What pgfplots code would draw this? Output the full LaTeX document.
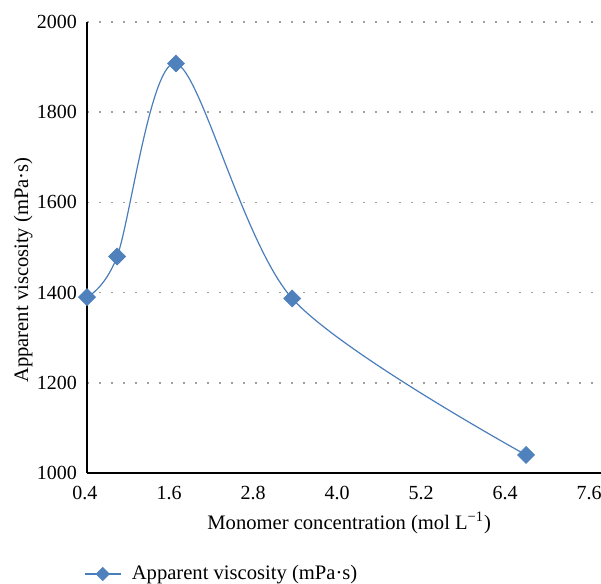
\documentclass[border=0pt]{standalone}
\usepackage{fontspec}
\setmainfont{Liberation Serif}
\usepackage{pgfplots}
\pgfplotsset{compat=1.18}
\definecolor{seriesblue}{HTML}{4A7EBB}
\definecolor{markblue}{HTML}{4F81BD}

\begin{document}
\begin{tikzpicture}
% fixed canvas around the plot area (axis box: 257pt x 225.5pt)
\path[use as bounding box] (-43.5pt,-55.5pt) rectangle (257pt,236.5pt);
\begin{axis}[
  scale only axis,
  width=257pt, height=225.5pt,
  at={(0,0)}, anchor=south west,
  xmin=0.4, xmax=7.74,
  ymin=1000, ymax=2000,
  xtick={0.4,1.6,2.8,4.0,5.2,6.4,7.6},
  xticklabels={0.4,1.6,2.8,4.0,5.2,6.4,7.6},
  ytick={1000,1200,1400,1600,1800,2000},
  yticklabels={1000,1200,1400,1600,1800,2000},
  major tick length=0pt,
  axis x line=bottom, axis y line=left,
  axis line style={-, black, line width=0.75pt},
  ymajorgrids,
  grid style={gray!75, line width=0.8pt, dash pattern=on 0.8pt off 5.2pt},
  font=\fontsize{10.3}{12}\selectfont,
  tick label style={font=\fontsize{10}{12}\selectfont},
  yticklabel style={xshift=-1.5pt},
  xticklabel style={yshift=-3pt, xshift=-1pt},
  /pgf/number format/assume math mode=true,
  xlabel={Monomer concentration (mol L\textsuperscript{−1})},
  xlabel style={at={(axis description cs:0.51,-0.111)}, anchor=center},
  ylabel={Apparent viscosity (mPa·s)},
  ylabel style={at={(axis description cs:-0.124,0.45)}, anchor=center},
  legend style={at={(axis description cs:-0.017,-0.224)}, anchor=west,
    draw=none, fill=none, font=\fontsize{10.3}{12}\selectfont,
    legend cell align=left},
  legend image code/.code={
    \draw[#1, mark repeat=2, mark phase=2,
          mark options={rotate=45, scale=0.75, fill=markblue, draw=markblue, solid}]
      plot coordinates {(0pt,0pt) (8.75pt,0pt) (17.5pt,0pt)};
    \path (21pt,0pt);
  },
  clip=false,
]
\addplot[
  color=seriesblue, line width=0.6pt,
  smooth, tension=0.5,
  mark=square*, mark size=3pt,
  mark options={rotate=45, fill=markblue, draw=markblue, line width=0.3pt, solid},
] coordinates {
  (0.40, 1390)
  (0.83, 1480)
  (1.67, 1908)
  (3.33, 1387)
  (6.67, 1040)
};
\addlegendentry{Apparent viscosity (mPa·s)}
\end{axis}
\end{tikzpicture}
\end{document}
